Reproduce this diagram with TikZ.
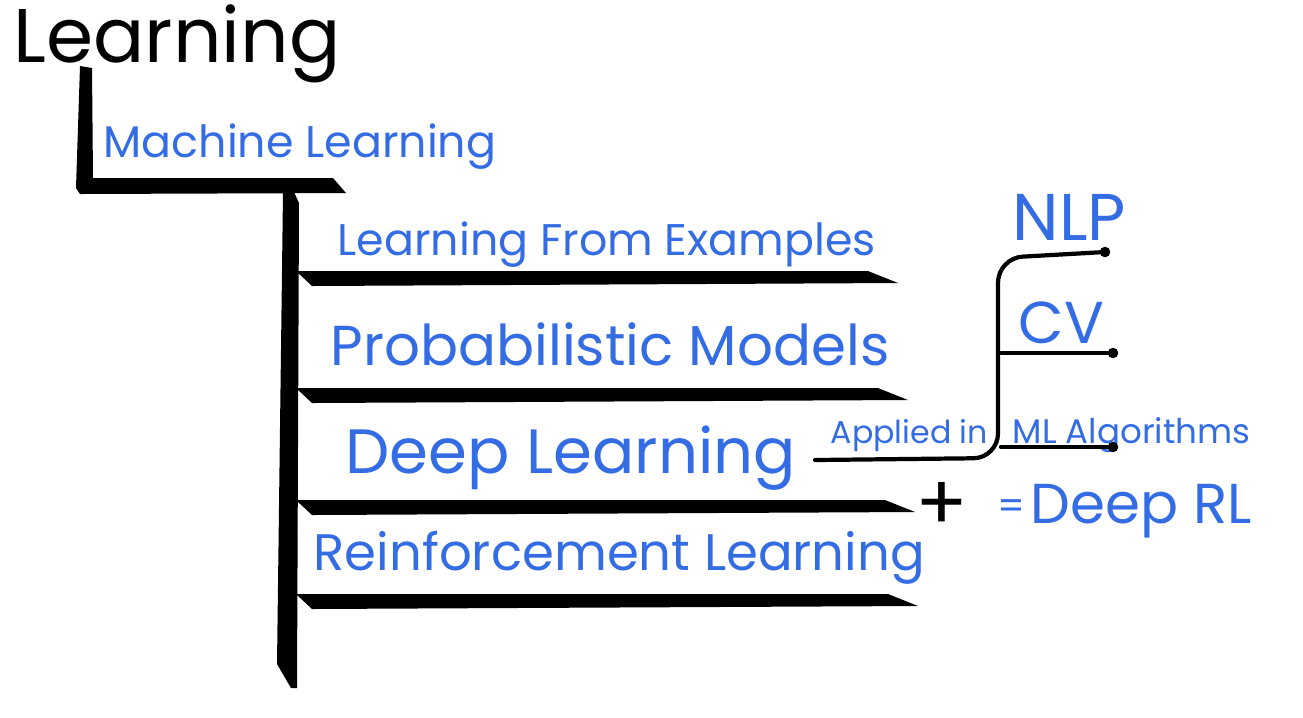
\documentclass[tikz,border=0pt]{standalone}
\usepackage{fontspec}
\setmainfont{Poppins}
\definecolor{penblue}{RGB}{52,108,228}
\newcommand\fs[1]{\fontsize{#1}{#1}\selectfont}

\tikzset{
  ink/.style={inner sep=0pt, anchor=base west},
  hand/.style={ink, text=penblue},
  twig/.style={line width=1.2pt, line cap=round, line join=round}
}

\begin{document}
\begin{tikzpicture}[x=0.01cm, y=-0.01cm]
  \useasboundingbox (0,0) rectangle (1303,717);

  % top level
  \node[ink, font=\fs{21.6pt}] (learning) at (13,62) {Learning};
  \fill (80,66) -- (92,68) -- (93,178) -- (333,178) -- (346,193) -- (80,194) -- (76,188) -- cycle;
  \node[hand, font=\fs{12.6pt}] (ml) at (103,157) {Machine Learning};

  % trunk and shelves
  \fill (283,192) -- (294,192) -- (299,203) -- (297,688) -- (291,688) -- (277,664) -- cycle;
  \foreach \y/\x in {271/868, 388/878, 500/885, 594/888}
    \fill (296,\y) -- (\x,\y) -- ({\x+30},{\y+12}) -- (312,{\y+15}) -- cycle;

  \node[hand, font=\fs{12.6pt}] (lfe) at (337,255) {Learning From Examples};
  \node[hand, font=\fs{16pt}] (pm) at (330,365) {Probabilistic Models};
  \node[hand, font=\fs{17.8pt}] (dl) at (345,473) {Deep Learning};
  \node[hand, font=\fs{14.6pt}] (rl) at (313,570) {Reinforcement Learning};

  % applications of deep learning
  \node[hand, font=\fs{9pt}] (applied) at (830,443) {Applied in};
  \node[hand, font=\fs{18.8pt}] (nlp) at (1012,240) {NLP};
  \node[hand, font=\fs{16.8pt}] (cv) at (1018,343) {CV};
  \node[hand, font=\fs{9.7pt}] (mlalg) at (1012,443) {ML Algorithms};

  \coordinate (fork) at (815,460);
  \coordinate (nlpend) at (1105,252);
  \coordinate (cvend) at (1113,353);
  \coordinate (mlend) at (1113,447);
  \draw[twig, rounded corners=7] (fork) -- (998,458) -- (998,258) -- (nlpend);
  \draw[twig] (1001,353) -- (cvend);
  \draw[twig] (1001,447) -- (mlend);
  \foreach \c in {nlpend, cvend, mlend}
    \fill (\c) circle (1.5pt);

  % deep rl
  \node[ink, anchor=center, font=\fs{22pt}] (plus) at (942,506) {+};
  \node[hand, anchor=center, font=\fs{11pt}] (eq) at (1011,510) {=};
  \node[hand, font=\fs{16pt}] (drl) at (1030,523) {Deep RL};
\end{tikzpicture}
\end{document}
